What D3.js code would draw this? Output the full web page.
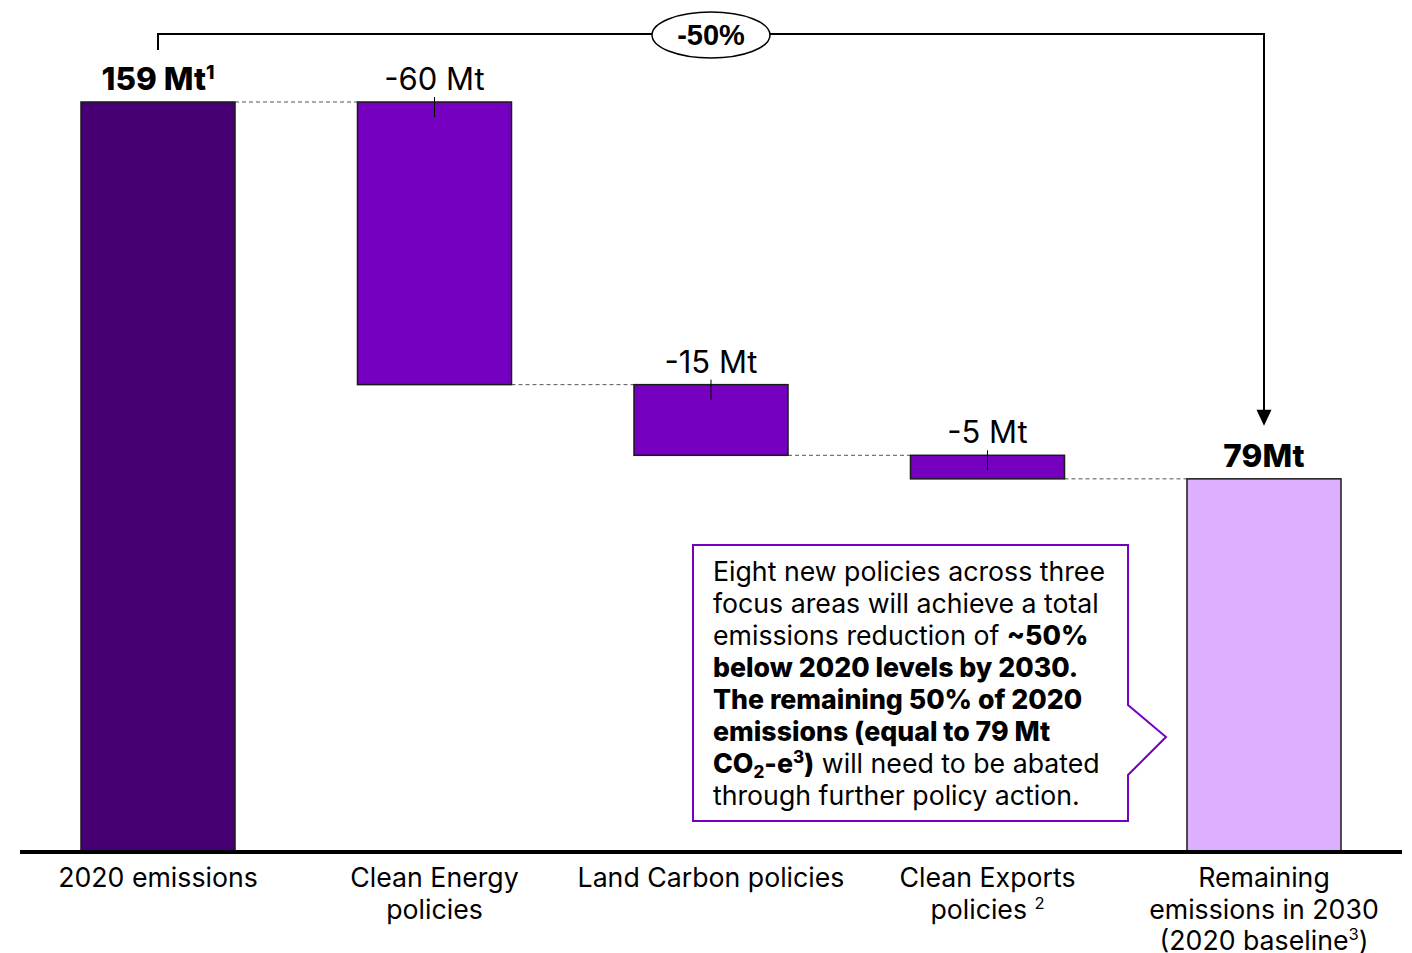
<!DOCTYPE html>
<html>
<head>
<meta charset="utf-8">
<script src="https://cdn.jsdelivr.net/npm/d3@7"></script>
<style>
  body { margin: 0; background: #fff; }
  svg text { font-family: Inter, Roboto, sans-serif; fill: #000; }
</style>
</head>
<body>
<svg id="chart" width="1412" height="953"></svg>
<script>
// waterfall data
const categories = ["2020 emissions", "Clean Energy policies", "Land Carbon policies", "Clean Exports policies", "Remaining emissions in 2030"];
// axis label lines, ^n = superscript
const categoryLines = [
  ["2020 emissions"],
  ["Clean Energy", "policies"],
  ["Land Carbon policies"],
  ["Clean Exports", "policies ^2"],
  ["Remaining", "emissions in 2030", "(2020 baseline^3)"]
];
const values = [159, -60, -15, -5, 79];
const kinds = ["total", "delta", "delta", "delta", "total"];
const valueLabels = ["159 Mt^1", "-60 Mt", "-15 Mt", "-5 Mt", "79Mt"];
const reductionLabel = "-50%";

const calloutLines = [
  [["Eight new policies across three", 0]],
  [["focus areas will achieve a total", 0]],
  [["emissions reduction of ", 0], ["~50%", 1]],
  [["below 2020 levels by 2030.", 1]],
  [["The remaining 50% of 2020", 1]],
  [["emissions (equal to 79 Mt", 1]],
  [["CO", 1], ["2", 1, "sub"], ["-e", 1], ["3", 1, "sup"], [")", 1], [" will need to be abated", 0]],
  [["through further policy action.", 0]]
];

const colors = { first: "#460073", delta: "#7500C0", last: "#DCAFFF" };

// running totals
let run = 0;
const bars = values.map((v, i) => {
  let y0, y1;
  if (kinds[i] === "total") { y0 = 0; y1 = v; run = v; }
  else { y1 = run; y0 = run + v; run = y0; }
  return { cat: categories[i], y0, y1, i };
});

const svg = d3.select("#chart");

const x = d3.scaleBand()
  .domain(categories)
  .range([81, 1341])
  .paddingInner(0.443)
  .paddingOuter(0);

const y = d3.scaleLinear()
  .domain([0, 159])
  .range([851, 102]);

const bw = x.bandwidth();
const cx = c => x(c) + bw / 2;

// connectors
const g = svg.append("g");
for (let i = 0; i < bars.length - 1; i++) {
  const lvl = kinds[i] === "total" ? bars[i].y1 : bars[i].y0;
  g.append("line")
    .attr("x1", x(categories[i]) + bw).attr("x2", x(categories[i + 1]))
    .attr("y1", y(lvl)).attr("y2", y(lvl))
    .attr("stroke", "#555").attr("stroke-width", 1)
    .attr("stroke-dasharray", "4,3");
}

g.selectAll("rect.bar").data(bars).enter().append("rect")
  .attr("class", "bar")
  .attr("x", d => x(d.cat))
  .attr("y", d => y(d.y1))
  .attr("width", bw)
  .attr("height", d => y(d.y0) - y(d.y1))
  .attr("fill", d => d.i === 0 ? colors.first : (d.i === bars.length - 1 ? colors.last : colors.delta))
  .attr("stroke", "#1a1a1a")
  .attr("stroke-width", 1.5);

// small tick marks on the reduction bars
g.selectAll("line.tk").data(bars.filter(d => kinds[d.i] === "delta")).enter().append("line")
  .attr("x1", d => cx(d.cat)).attr("x2", d => cx(d.cat))
  .attr("y1", d => y(d.y1) - 5).attr("y2", d => y(d.y1) + 15)
  .attr("stroke", "#000").attr("stroke-width", 1);

// text with ^n superscripts; shift back down on the following part
function addSup(textSel, str, size) {
  let back = 0;
  str.split(/(\^\d)/).forEach(part => {
    if (!part) return;
    if (part[0] === "^") {
      textSel.append("tspan").attr("font-size", size * 0.62).attr("dy", -size * 0.36 + back).text(part.slice(1));
      back = size * 0.36;
    } else {
      const sp = textSel.append("tspan").text(part);
      if (back) sp.attr("dy", back);
      back = 0;
    }
  });
}

bars.forEach(d => {
  const bold = kinds[d.i] === "total";
  const t = svg.append("text")
    .attr("x", cx(d.cat))
    .attr("y", y(d.y1) - 12)
    .attr("text-anchor", "middle")
    .attr("font-size", bold ? 31.5 : 31)
    .attr("font-weight", bold ? 800 : 400);
  addSup(t, valueLabels[d.i], 31);
});

// axis
svg.append("line")
  .attr("x1", 20).attr("x2", 1402)
  .attr("y1", y(0) + 1).attr("y2", y(0) + 1)
  .attr("stroke", "#000").attr("stroke-width", 4);

categories.forEach((c, i) => {
  categoryLines[i].forEach((ln, j) => {
    const t = svg.append("text")
      .attr("x", cx(c))
      .attr("y", 887 + j * 31.5)
      .attr("text-anchor", "middle")
      .attr("font-size", 26.7);
    addSup(t, ln, 26.7);
  });
});

// -50% bracket
const xl = cx(categories[0]), xr = cx(categories[4]), topY = 34;
const tipY = y(values[4]) - 53;
svg.append("path")
  .attr("d", `M${xl},${y(values[0]) - 52}V${topY}H${xr}V${tipY - 14}`)
  .attr("fill", "none").attr("stroke", "#000").attr("stroke-width", 2);
svg.append("path")
  .attr("d", `M${xr - 7.5},${tipY - 16}L${xr + 7.5},${tipY - 16}L${xr},${tipY}Z`)
  .attr("fill", "#000");
const ex = cx(categories[2]);
svg.append("ellipse")
  .attr("cx", ex).attr("cy", topY + 1).attr("rx", 59).attr("ry", 23)
  .attr("fill", "#fff").attr("stroke", "#000").attr("stroke-width", 1.5);
svg.append("text")
  .attr("x", ex).attr("y", topY + 11)
  .attr("text-anchor", "middle")
  .attr("font-size", 29).attr("font-weight", 700)
  .style("font-family", "'Liberation Sans', Arial, sans-serif")
  .text(reductionLabel);

// callout
svg.append("path")
  .attr("d", "M693,545H1128V705L1166,737L1128,775V821H693Z")
  .attr("fill", "#fff").attr("stroke", "#7500C0").attr("stroke-width", 2);

calloutLines.forEach((segs, j) => {
  const t = svg.append("text").attr("x", 713).attr("y", 581 + j * 32).attr("font-size", 26.7);
  let back = 0;
  segs.forEach(s => {
    const sp = t.append("tspan").attr("font-weight", s[1] ? 800 : 400).text(s[0]);
    if (s[2] === "sub") {
      sp.attr("font-size", 17).attr("dy", 5 + back); back = -5;
    } else if (s[2] === "sup") {
      sp.attr("font-size", 17).attr("dy", -10 + back); back = 10;
    } else if (back) {
      sp.attr("dy", back); back = 0;
    }
  });
});
</script>
</body>
</html>
